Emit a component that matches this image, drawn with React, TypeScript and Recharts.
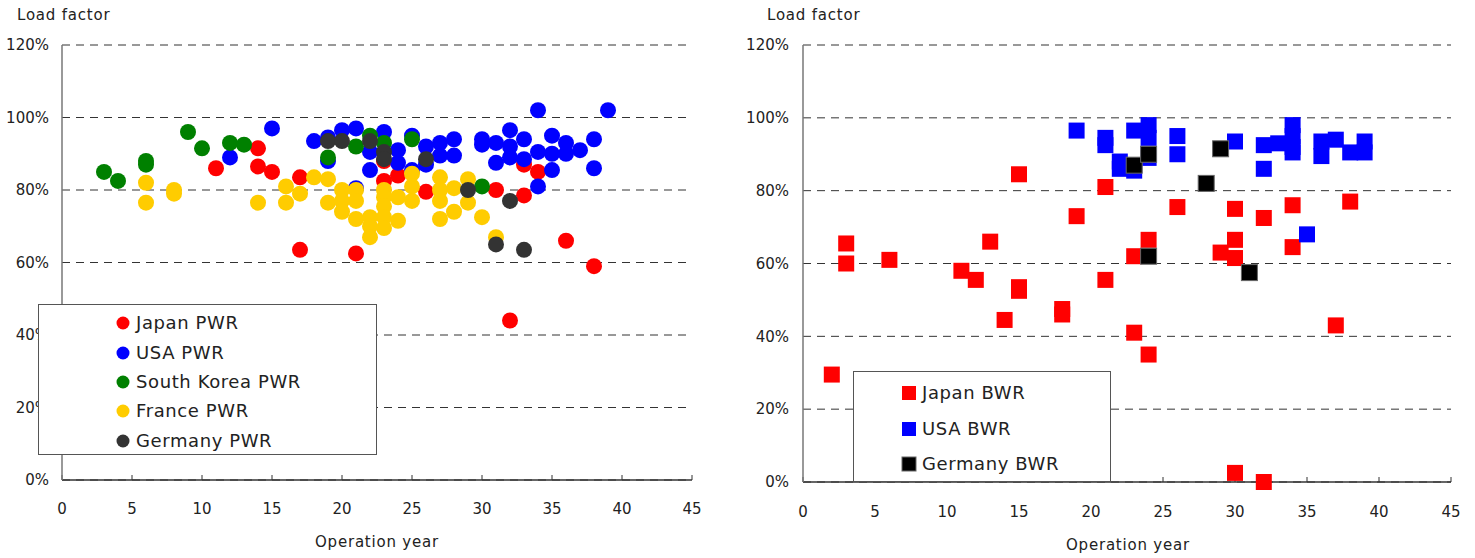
import React from 'react';
import { ScatterChart, Scatter, XAxis, YAxis, CartesianGrid, Legend } from 'recharts';

// [operation year, load factor %]
const japanPWR: [number, number][] = [
  [11, 86], [14, 91.5], [14, 86.5], [15, 85], [17, 83.5], [17, 63.5], [21, 62.5], [23, 82.5], [23, 88],
  [24, 84], [26, 79.5], [31, 80], [32, 44], [33, 87], [33, 78.5], [34, 85], [36, 66], [38, 59],
];
const usaPWR: [number, number][] = [
  [12, 89], [15, 97], [18, 93.5], [19, 88], [19, 94.5], [20, 96.5], [21, 97], [21, 80.5], [22, 90.5], [22, 85.5],
  [23, 96], [24, 91], [24, 87.5], [25, 85.5], [25, 95], [26, 92], [26, 87], [27, 93], [27, 89.5], [28, 94],
  [28, 89.5], [30, 94], [30, 92.5], [31, 93], [31, 87.5], [32, 96.5], [32, 92], [32, 89], [33, 94], [33, 88.5],
  [34, 102], [34, 90.5], [34, 81], [35, 95], [35, 90], [35, 85.5], [36, 93], [36, 90], [37, 91], [38, 94],
  [38, 86], [39, 102],
];
const koreaPWR: [number, number][] = [
  [3, 85], [4, 82.5], [6, 88], [6, 87], [9, 96], [10, 91.5], [12, 93], [13, 92.5], [19, 89], [21, 92],
  [22, 95], [23, 93], [25, 94], [30, 81],
];
const francePWR: [number, number][] = [
  [6, 82], [6, 76.5], [8, 80], [8, 79], [14, 76.5], [16, 81], [16, 76.5], [17, 79], [18, 83.5], [19, 83],
  [19, 76.5], [20, 80], [20, 77], [20, 74], [21, 80], [21, 77], [21, 72], [22, 72.5], [22, 70], [22, 67],
  [23, 80], [23, 78], [23, 75.5], [23, 72.5], [23, 69.5], [24, 78], [24, 71.5], [25, 84.5], [25, 81], [25, 77],
  [27, 83.5], [27, 80], [27, 77], [27, 72], [28, 80.5], [28, 74], [29, 83], [29, 76.5], [30, 72.5], [31, 67],
];
const germanyPWR: [number, number][] = [
  [19, 93.5], [20, 93.5], [22, 93.5], [23, 90.5], [23, 88.5], [26, 88.5], [29, 80], [31, 65], [32, 77], [33, 63.5],
];

const japanBWR: [number, number][] = [
  [2, 29.5], [3, 65.5], [3, 60], [6, 61], [11, 58], [12, 55.5], [13, 66], [14, 44.5], [15, 84.5], [15, 53.5],
  [15, 52.5], [18, 47.5], [18, 46], [19, 73], [21, 81], [21, 55.5], [23, 62], [23, 41], [24, 66.5], [24, 35],
  [26, 75.5], [29, 63], [30, 75], [30, 66.5], [30, 61.5], [30, 2.5], [32, 72.5], [32, 0], [34, 76], [34, 64.5],
  [37, 43], [38, 77],
];
const usaBWR: [number, number][] = [
  [19, 96.5], [21, 94.5], [21, 92.5], [22, 88], [22, 86], [23, 85.5], [23, 96.5], [24, 98], [24, 94.5], [24, 89],
  [26, 95], [26, 90], [30, 93.5], [32, 92.5], [32, 86], [33, 93], [34, 98], [34, 95], [34, 92], [34, 90.5],
  [35, 68], [36, 93.5], [36, 89.5], [37, 94], [38, 90.5], [39, 93.5], [39, 90.5],
];
const germanyBWR: [number, number][] = [
  [23, 87], [24, 90], [24, 62], [28, 82], [29, 91.5], [31, 57.5],
];

const xTicks = [0, 5, 10, 15, 20, 25, 30, 35, 40, 45];
const yTicks = [0, 20, 40, 60, 80, 100, 120];
const yAxisTitle = 'Load factor';
const xAxisTitle = 'Operation year';

const pwrSeries = [
  { name: 'Japan PWR', data: japanPWR, color: '#FF0000' },
  { name: 'USA PWR', data: usaPWR, color: '#0000FF' },
  { name: 'South Korea PWR', data: koreaPWR, color: '#008000' },
  { name: 'France PWR', data: francePWR, color: '#FFCC00' },
  { name: 'Germany PWR', data: germanyPWR, color: '#333333' },
];
const bwrSeries = [
  { name: 'Japan BWR', data: japanBWR, color: '#FF0000' },
  { name: 'USA BWR', data: usaBWR, color: '#0000FF' },
  { name: 'Germany BWR', data: germanyBWR, color: '#000000' },
];

const FONT = '"DejaVu Sans", sans-serif';
const TEXT = '#222';

const toPts = (arr: [number, number][]) => arr.map(([x, y]) => ({ x, y }));

const circleShape = (color: string) => (p: any) =>
  <circle cx={p.cx} cy={p.cy} r={8} fill={color} />;
const squareShape = (color: string, stroke?: string) => (p: any) =>
  <rect x={p.cx - 8} y={p.cy - 8} width={16} height={16} fill={color} stroke={stroke || 'none'} strokeWidth={stroke ? 1 : 0} />;

const LegendBox = (props: {
  items: { name: string; color: string }[]; kind: 'circle' | 'square'; w: number; h: number;
  rows: number[]; markerX: number; textX: number;
}) => (
  <div style={{ width: props.w, height: props.h, border: '1px solid #555', background: '#fff', boxSizing: 'border-box', position: 'relative', fontFamily: FONT }}>
    {props.items.map((it, i) => (
      <React.Fragment key={it.name}>
        <svg style={{ position: 'absolute', left: props.markerX - 8, top: props.rows[i] - 8 }} width={16} height={16}>
          {props.kind === 'circle'
            ? <circle cx={8} cy={8} r={6.5} fill={it.color} />
            : <rect x={1} y={1} width={14} height={14} fill={it.color} stroke={it.color === '#000000' ? '#666' : 'none'} />}
        </svg>
        <div style={{ position: 'absolute', left: props.textX, top: props.rows[i] - 12, fontSize: 18, lineHeight: '24px', color: TEXT, letterSpacing: 0.6, whiteSpace: 'nowrap' }}>
          {it.name}
        </div>
      </React.Fragment>
    ))}
  </div>
);

const pctFmt = (v: number) => `${v}%`;

export default function App() {
  return (
    <div style={{ position: 'absolute', left: 0, top: 0, width: 1475, height: 558, background: '#fff', fontFamily: FONT }}>
      {/* Left chart */}
      <div style={{ position: 'absolute', left: 0, top: 0 }}>
        <ScatterChart width={720} height={558} margin={{ top: 45, right: 28, bottom: 38, left: 0 }}>
          <CartesianGrid vertical={false} stroke="#333" strokeDasharray="8 6" />
          <XAxis type="number" dataKey="x" domain={[0, 45]} ticks={xTicks} height={40}
            axisLine={{ stroke: '#333', strokeWidth: 1.5 }} tickLine={{ stroke: '#333' }} tickSize={-5} tickMargin={28}
            tick={{ fill: TEXT, fontSize: 15, fontFamily: FONT }} interval={0} />
          <YAxis type="number" dataKey="y" domain={[0, 120]} ticks={yTicks} width={62} tickFormatter={pctFmt}
            axisLine={{ stroke: '#777', strokeWidth: 1.5 }} tickLine={false} tickSize={0} tickMargin={13}
            tick={{ fill: TEXT, fontSize: 15, fontFamily: FONT }} interval={0} />
          {pwrSeries.map((s) => (
            <Scatter key={s.name} name={s.name} data={toPts(s.data)} fill={s.color} shape={circleShape(s.color)} isAnimationActive={false} />
          ))}
          <Legend layout="vertical" align="center" verticalAlign="middle"
            wrapperStyle={{ position: 'absolute', left: 38, top: 304, width: 339, height: 151 }}
            content={() => <LegendBox items={pwrSeries} kind="circle" w={339} h={151} rows={[18, 48, 77, 106, 136]} markerX={84} textX={97} />} />
        </ScatterChart>
        <div style={{ position: 'absolute', left: 17, top: 6, fontSize: 15, color: TEXT, letterSpacing: 0.8, whiteSpace: 'nowrap' }}>{yAxisTitle}</div>
        <div style={{ position: 'absolute', left: 277, width: 200, textAlign: 'center', top: 533, fontSize: 15, color: TEXT, letterSpacing: 0.8, whiteSpace: 'nowrap' }}>{xAxisTitle}</div>
      </div>

      {/* Right chart */}
      <div style={{ position: 'absolute', left: 740, top: 0 }}>
        <ScatterChart width={735} height={558} margin={{ top: 45, right: 24, bottom: 36, left: 0 }}>
          <CartesianGrid vertical={false} stroke="#333" strokeDasharray="8 6" />
          <XAxis type="number" dataKey="x" domain={[0, 45]} ticks={xTicks} height={40}
            axisLine={{ stroke: '#333', strokeWidth: 1.5 }} tickLine={{ stroke: '#333' }} tickSize={-5} tickMargin={29}
            tick={{ fill: TEXT, fontSize: 15, fontFamily: FONT }} interval={0} />
          <YAxis type="number" dataKey="y" domain={[0, 120]} ticks={yTicks} width={63} tickFormatter={pctFmt}
            axisLine={{ stroke: '#777', strokeWidth: 1.5 }} tickLine={false} tickSize={0} tickMargin={14}
            tick={{ fill: TEXT, fontSize: 15, fontFamily: FONT }} interval={0} />
          {bwrSeries.map((s) => (
            <Scatter key={s.name} name={s.name} data={toPts(s.data)} fill={s.color}
              shape={squareShape(s.color, s.color === '#000000' ? '#666' : undefined)} isAnimationActive={false} />
          ))}
          <Legend layout="vertical" align="center" verticalAlign="middle"
            wrapperStyle={{ position: 'absolute', left: 113, top: 371, width: 258, height: 111 }}
            content={() => <LegendBox items={bwrSeries} kind="square" w={258} h={111} rows={[21, 57, 92]} markerX={55} textX={68} />} />
        </ScatterChart>
        <div style={{ position: 'absolute', left: 27, top: 6, fontSize: 15, color: TEXT, letterSpacing: 0.8, whiteSpace: 'nowrap' }}>{yAxisTitle}</div>
        <div style={{ position: 'absolute', left: 288, width: 200, textAlign: 'center', top: 536, fontSize: 15, color: TEXT, letterSpacing: 0.8, whiteSpace: 'nowrap' }}>{xAxisTitle}</div>
      </div>
    </div>
  );
}
